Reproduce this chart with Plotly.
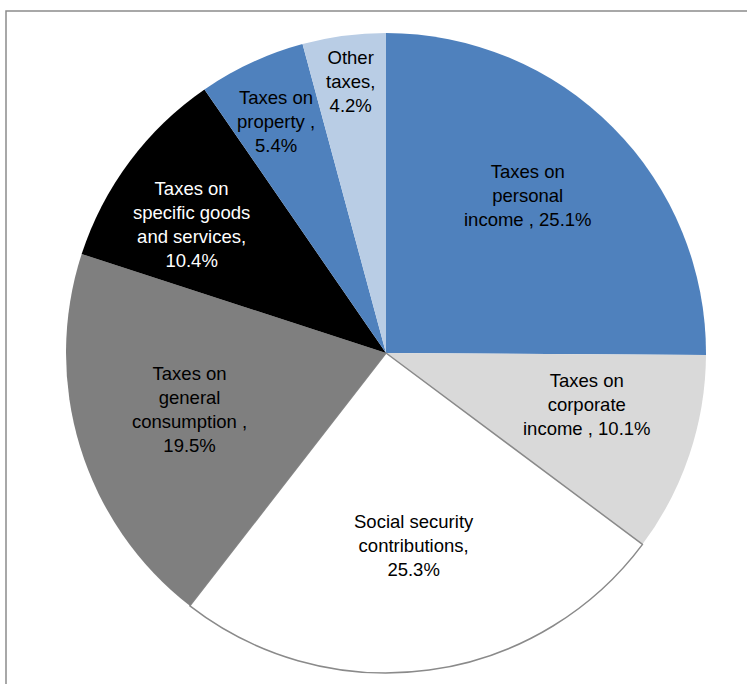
import math
import plotly.graph_objects as go

# Tax revenue structure, shares in percent (clockwise from 12 o'clock)
categories = [
    "Taxes on personal income",
    "Taxes on corporate income",
    "Social security contributions",
    "Taxes on general consumption",
    "Taxes on specific goods and services",
    "Taxes on property",
    "Other taxes",
]
shares = [25.1, 10.1, 25.3, 19.5, 10.4, 5.4, 4.2]
label_lines = [
    "Taxes on<br>personal<br>income , {}%",
    "Taxes on<br>corporate<br>income , {}%",
    "Social security<br>contributions,<br>{}%",
    "Taxes on<br>general<br>consumption ,<br>{}%",
    "Taxes on<br>specific goods<br>and services,<br>{}%",
    "Taxes on<br>property ,<br>{}%",
    "Other<br>taxes,<br>{}%",
]

slice_colors = ["#4F81BD", "#D9D9D9", "#FFFFFF", "#7F7F7F", "#000000", "#4F81BD", "#B9CDE5"]
text_colors = ["#000000", "#000000", "#000000", "#000000", "#FFFFFF", "#000000", "#000000"]
outline_colors = ["rgba(0,0,0,0)", "rgba(0,0,0,0)", "#8A8A8A", "rgba(0,0,0,0)",
                  "rgba(0,0,0,0)", "rgba(0,0,0,0)", "rgba(0,0,0,0)"]
outline_widths = [0, 0, 1.5, 0, 0, 0, 0]
# label placement: radius as a fraction of the pie radius, and a small
# angular shift (degrees) away from each slice's mid-angle
label_radius = [0.662, 0.648, 0.609, 0.638, 0.729, 0.802, 0.857]
label_shift = [-3.1, -4.3, -0.5, 0.9, -3.4, -0.5, 0.2]

W, H = 747, 684
CX, CY, R = 386, 353, 320

fig = go.Figure(go.Pie(
    labels=categories,
    values=shares,
    sort=False,
    direction="clockwise",
    rotation=0,
    textinfo="none",
    hoverinfo="label+percent",
    marker=dict(colors=slice_colors,
                line=dict(color=outline_colors, width=outline_widths)),
    domain=dict(x=[(CX - R) / W, (CX + R) / W],
                y=[(H - CY - R) / H, (H - CY + R) / H]),
    showlegend=False,
))

# Labels placed along each slice's mid-angle
total = sum(shares)
cum = 0.0
annotations = []
for i, v in enumerate(shares):
    mid = (cum + v / 2) / total * 2 * math.pi + math.radians(label_shift[i])
    cum += v
    r = label_radius[i] * R
    px = CX + r * math.sin(mid)
    py = CY - r * math.cos(mid)
    annotations.append(dict(
        x=px / W, y=(H - py) / H, xref="paper", yref="paper",
        text=label_lines[i].format(v), showarrow=False,
        xanchor="center", yanchor="middle", align="center",
        font=dict(family="Liberation Sans, Arial, sans-serif", size=18.5,
                  color=text_colors[i]),
    ))

fig.update_layout(
    width=W, height=H,
    margin=dict(l=0, r=0, t=0, b=0),
    paper_bgcolor="#FFFFFF",
    plot_bgcolor="#FFFFFF",
    annotations=annotations,
    shapes=[dict(type="rect", xref="paper", yref="paper",
                 x0=6 / W, x1=1.05, y0=-0.05, y1=(H - 11) / H,
                 line=dict(color="#8C8C8C", width=1.5),
                 fillcolor="rgba(0,0,0,0)", layer="below")],
)

fig.write_html("out.html")
